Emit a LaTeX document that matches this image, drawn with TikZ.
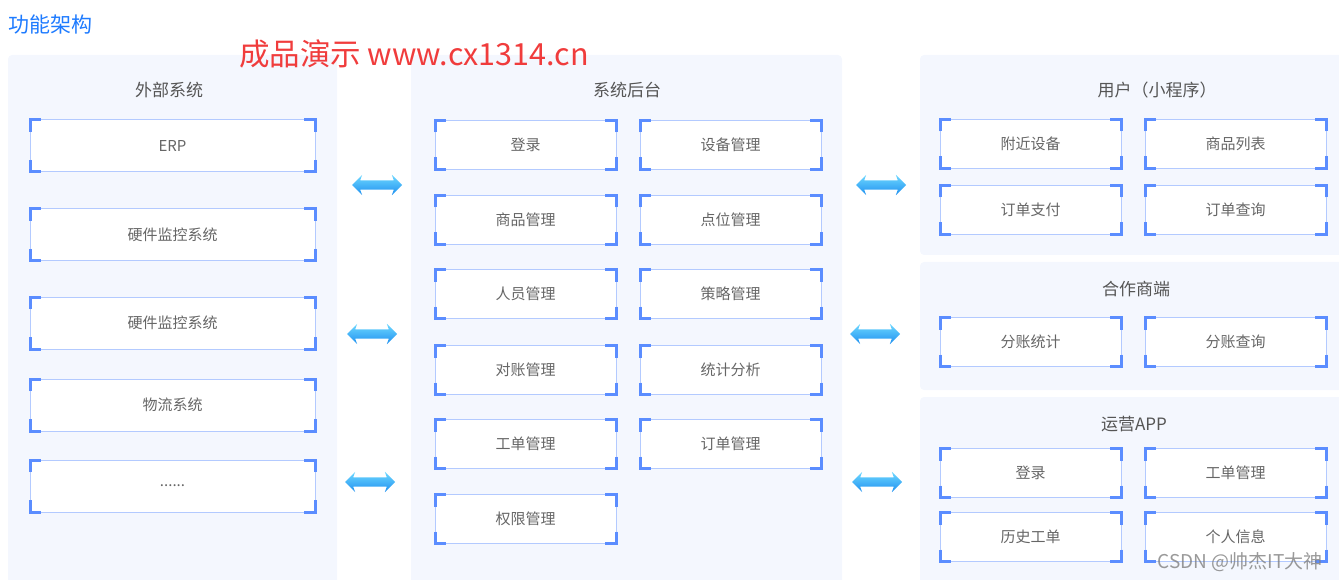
\documentclass[tikz,border=0pt]{standalone}
\usepackage{fontspec}
\setmainfont{Noto Sans CJK SC}
\usepackage{xcolor}
\usetikzlibrary{shapes.arrows}

\definecolor{panelbg}{HTML}{F4F7FE}
\definecolor{boxline}{HTML}{B3CAFF}
\definecolor{cornerblue}{HTML}{5B8DFF}
\definecolor{labelgray}{HTML}{666666}
\definecolor{titlegray}{HTML}{555555}
\definecolor{headblue}{HTML}{1E7BFF}
\definecolor{markred}{HTML}{F03C3C}
\definecolor{arrowtop}{HTML}{6FD8FF}
\definecolor{arrowbot}{HTML}{1E90F0}

\begin{document}
\begin{tikzpicture}[
    x=1pt, y=-1pt,
    panel/.style={fill=panelbg, rounded corners=4pt},
    title/.style={font=\fontsize{17}{20}\selectfont, text=titlegray},
    funcbox/.style={draw=boxline, line width=1pt, fill=white, minimum width=181pt,
        minimum height=49pt, inner sep=0pt, outer sep=0pt,
        font=\fontsize{15}{18}\selectfont, text=labelgray},
    widebox/.style={funcbox, minimum width=285pt, minimum height=52pt},
    corner/.style={draw=cornerblue, line width=3pt},
    link/.style={double arrow, minimum height=50pt, minimum width=20pt,
        inner sep=0pt, text height=4.5pt, text depth=4.5pt,
        double arrow head extend=5.5pt, double arrow head indent=2pt,
        top color=arrowtop, bottom color=arrowbot}
]
\useasboundingbox (0,0) rectangle (1339,580);

% 标题
\node[anchor=west, inner sep=0pt, font=\fontsize{21}{24}\selectfont, text=headblue]
    (head) at (8,25) {功能架构};

% 底板
\fill[panel] (8,55) rectangle (337,590);
\fill[panel] (411,55) rectangle (842,590);
\fill[panel] (920,55) rectangle (1349,255);
\fill[panel] (920,262) rectangle (1349,390);
\fill[panel] (920,397) rectangle (1349,590);

% 外部系统
\node[title] (extT) at (169,90) {外部系统};
\node[widebox] (ext1) at (172.5,146) {ERP};
\node[widebox] (ext2) at (172.5,235) {硬件监控系统};
\node[widebox] (ext3) at (172.5,323) {硬件监控系统};
\node[widebox] (ext4) at (172.5,405) {物流系统};
\node[widebox] (ext5) at (172.5,486) {......};

% 系统后台
\node[title] (sysT) at (627,90) {系统后台};
\node[funcbox] (sys1) at (525.5,145) {登录};
\node[funcbox] (sys2) at (730.5,145) {设备管理};
\node[funcbox] (sys3) at (525.5,220) {商品管理};
\node[funcbox] (sys4) at (730.5,220) {点位管理};
\node[funcbox] (sys5) at (525.5,294) {人员管理};
\node[funcbox] (sys6) at (730.5,294) {策略管理};
\node[funcbox] (sys7) at (525.5,370) {对账管理};
\node[funcbox] (sys8) at (730.5,370) {统计分析};
\node[funcbox] (sys9) at (525.5,444) {工单管理};
\node[funcbox] (sys10) at (730.5,444) {订单管理};
\node[funcbox] (sys11) at (525.5,519) {权限管理};

% 用户（小程序）
\node[title] (usrT) at (1157,90) {用户（小程序）};
\node[funcbox] (usr1) at (1030.5,144) {附近设备};
\node[funcbox] (usr2) at (1235.5,144) {商品列表};
\node[funcbox] (usr3) at (1030.5,210) {订单支付};
\node[funcbox] (usr4) at (1235.5,210) {订单查询};

% 合作商端
\node[title] (parT) at (1136,289) {合作商端};
\node[funcbox] (par1) at (1030.5,342) {分账统计};
\node[funcbox] (par2) at (1235.5,342) {分账查询};

% 运营APP
\node[title] (opsT) at (1134,424) {运营APP};
\node[funcbox] (ops1) at (1030.5,473) {登录};
\node[funcbox] (ops2) at (1235.5,473) {工单管理};
\node[funcbox] (ops3) at (1030.5,537) {历史工单};
\node[funcbox] (ops4) at (1235.5,537) {个人信息};

% 角标
\foreach \n in {ext1,ext2,ext3,ext4,ext5,sys1,sys2,sys3,sys4,sys5,sys6,sys7,sys8,
    sys9,sys10,sys11,usr1,usr2,usr3,usr4,par1,par2,ops1,ops2,ops3,ops4} {
  \draw[corner] ([yshift=-12pt]\n.north west) |- ([xshift=11pt]\n.north west);
  \draw[corner] ([yshift=-12pt]\n.north east) |- ([xshift=-11pt]\n.north east);
  \draw[corner] ([yshift=12pt]\n.south west) |- ([xshift=11pt]\n.south west);
  \draw[corner] ([yshift=12pt]\n.south east) |- ([xshift=-11pt]\n.south east);
}

% 双向箭头
\node[link] (la1) at (377,185) {};
\node[link] (la2) at (372,334) {};
\node[link] (la3) at (370,482) {};
\node[link] (ra1) at (881,185) {};
\node[link] (ra2) at (875,334) {};
\node[link] (ra3) at (877,482) {};

% 水印
\node[font=\fontsize{30.5}{34}\selectfont, text=markred] (mark) at (414,54) {成品演示 www.cx1314.cn};
\node[font=\fontsize{19}{21}\selectfont, text=gray, opacity=0.8] (csdn) at (1240,562) {CSDN @帅杰IT大神};

\end{tikzpicture}
\end{document}
